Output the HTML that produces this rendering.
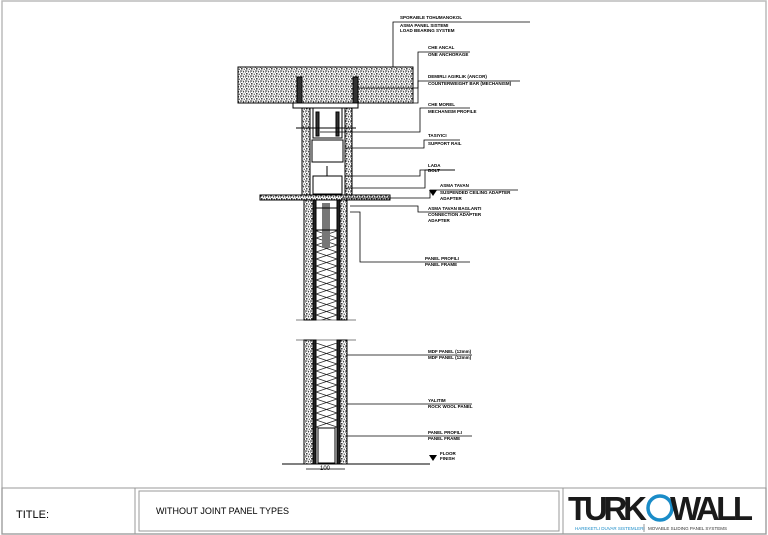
<!DOCTYPE html><html><head><style>body{margin:0;background:#fff}svg{display:block}text{font-family:"Liberation Sans",sans-serif}</style></head><body>
<svg width="768" height="535" viewBox="0 0 768 535" xmlns="http://www.w3.org/2000/svg">
<defs>
<pattern id="sp" width="5" height="5" patternUnits="userSpaceOnUse"><rect width="5" height="5" fill="#fff"/><circle cx="1" cy="1" r=".8" fill="#111"/><circle cx="3.5" cy="1.8" r=".7" fill="#222"/><circle cx="1.8" cy="3.8" r=".8" fill="#111"/><circle cx="4.3" cy="4.2" r=".6" fill="#222"/><circle cx="3" cy="0.3" r=".4" fill="#333"/><circle cx="0.3" cy="2.6" r=".4" fill="#333"/></pattern>
<pattern id="zz" x="316" y="0" width="21" height="14" patternUnits="userSpaceOnUse"><path d="M0 0L21 7L0 14M21 0L0 7L21 14" fill="none" stroke="#222" stroke-width=".8"/></pattern>
</defs>
<rect x="2" y="1" width="764" height="533" fill="none" stroke="#bbb" stroke-width="1.5"/>
<g stroke="#000" stroke-width="1" fill="none">
<rect x="238" y="67" width="175" height="36" fill="url(#sp)"/>
<rect x="297" y="77" width="5" height="26" fill="#333"/><rect x="353" y="77" width="5" height="26" fill="#333"/>
<rect x="293" y="103" width="65" height="5" fill="#fff"/>
<rect x="302" y="108" width="8" height="87" fill="url(#sp)"/>
<rect x="345" y="108" width="7" height="87" fill="url(#sp)"/>
<rect x="313" y="108" width="29" height="30"/><rect x="316" y="112" width="3" height="24" fill="#333"/><rect x="336" y="112" width="3" height="24" fill="#333"/>
<rect x="312" y="140" width="31" height="22"/>
<rect x="313" y="176" width="29" height="18"/><line x1="327" y1="166" x2="327" y2="176"/>
<line x1="296" y1="128" x2="356" y2="128"/>
<rect x="260" y="195" width="130" height="5" fill="url(#sp)"/>
<rect x="304" y="200" width="9" height="120" fill="url(#sp)"/><rect x="340" y="200" width="7" height="120" fill="url(#sp)"/>
<rect x="313" y="200" width="3" height="120" fill="#222"/><rect x="337" y="200" width="3" height="120" fill="#222"/>
<rect x="316" y="230" width="21" height="90" fill="url(#zz)" stroke="none"/>
<rect x="322" y="203" width="8" height="45" fill="#777" stroke="none"/>
<rect x="316" y="208" width="21" height="22"/>
<rect x="304" y="340" width="9" height="124" fill="url(#sp)"/><rect x="340" y="340" width="7" height="124" fill="url(#sp)"/>
<rect x="313" y="340" width="3" height="124" fill="#222"/><rect x="337" y="340" width="3" height="124" fill="#222"/>
<rect x="316" y="343" width="21" height="85" fill="url(#zz)" stroke="none"/>
<rect x="318" y="428" width="17" height="35"/>
<g stroke-width=".6"><line x1="296" y1="320" x2="356" y2="320"/><line x1="296" y1="340" x2="356" y2="340"/></g>
<line x1="282" y1="464" x2="430" y2="464"/>
<line x1="306" y1="469" x2="345" y2="469" stroke-width=".7"/>
<g stroke-width=".8">
<polyline points="393,67 393,22 530,22"/>
<polyline points="358,88 418,88 418,52 470,52"/>
<polyline points="358,103 418,103 418,81 520,81"/>
<polyline points="320,132 420,132 420,108 470,108"/>
<polyline points="345,148 424,148 424,140 460,140"/>
<polyline points="345,176 420,176 420,170 455,170"/>
<polyline points="345,188 425,188 425,170 455,170"/>
<polyline points="342,198 430,198 430,190 518,190"/>
<polyline points="350,206 418,206 418,212 470,212"/>
<polyline points="350,212 360,212 360,262 470,262"/>
<line x1="347" y1="355" x2="472" y2="355"/>
<line x1="347" y1="404" x2="472" y2="404"/>
<line x1="347" y1="436" x2="472" y2="436"/>
</g>
</g>
<polygon points="429,190 437,190 433,196" fill="#000"/>
<polygon points="429,455 437,455 433,461" fill="#000"/>
<g font-size="4.5" font-weight="bold" fill="#000">
<text x="400" y="19">SPORABLE TOHUMANOKOL</text><text x="400" y="27">ASMA PANEL SISTEMI</text><text x="400" y="32">LOAD BEARING SYSTEM</text>
<text x="428" y="49">CHE ANCAL</text><text x="428" y="56">ONE ANCHORAGE</text>
<text x="428" y="78">DEMIRLI AGIRLIK (ANCOR)</text><text x="428" y="85">COUNTERWEIGHT BAR (MECHANISM)</text>
<text x="428" y="106">CHE MOREL</text><text x="428" y="113">MECHANISM PROFILE</text>
<text x="428" y="137">TASIYICI</text><text x="428" y="145">SUPPORT RAIL</text>
<text x="428" y="167">LADA</text><text x="428" y="172">BOLT</text>
<text x="440" y="187">ASMA TAVAN</text><text x="440" y="194">SUSPENDED CEILING ADAPTER</text><text x="440" y="200">ADAPTER</text>
<text x="428" y="210">ASMA TAVAN BAGLANTI</text><text x="428" y="216">CONNECTION ADAPTER</text><text x="428" y="222">ADAPTER</text>
<text x="425" y="260">PANEL PROFILI</text><text x="425" y="266">PANEL FRAME</text>
<text x="428" y="353">MDF PANEL (12mm)</text><text x="428" y="359">MDF PANEL (12mm)</text>
<text x="428" y="402">YALITIM</text><text x="428" y="408">ROCK WOOL PANEL</text>
<text x="428" y="434">PANEL PROFILI</text><text x="428" y="440">PANEL FRAME</text>
<text x="440" y="455">FLOOR</text><text x="440" y="460">FINISH</text>
</g>
<text x="320" y="470" font-size="6">100</text>
<g stroke="#999" fill="none" stroke-width="1">
<rect x="2" y="488" width="764" height="46"/>
<line x1="135" y1="488" x2="135" y2="534"/>
<rect x="139" y="491" width="420" height="40"/>
<line x1="563" y1="488" x2="563" y2="534"/>
</g>
<text x="16" y="518" font-size="11" fill="#000">TITLE:</text>
<text x="156" y="514" font-size="9" fill="#000">WITHOUT JOINT PANEL TYPES</text>
<text x="568" y="520" font-size="33" font-weight="bold" fill="#1a1a1a" letter-spacing="-1" textLength="78">TURK</text>
<circle cx="660" cy="508" r="12" fill="none" stroke="#1a8cc8" stroke-width="3.5"/>
<text x="670" y="520" font-size="33" font-weight="bold" fill="#1a1a1a" letter-spacing="-1" textLength="82">WALL</text>
<text x="575" y="530" font-size="4.5" fill="#1a8cc8">HAREKETLI DUVAR SISTEMLERI</text>
<line x1="644" y1="524" x2="644" y2="532" stroke="#333" stroke-width=".5"/>
<text x="648" y="530" font-size="4.5" fill="#333">MOVABLE SLIDING PANEL SYSTEMS</text>
</svg></body></html>
